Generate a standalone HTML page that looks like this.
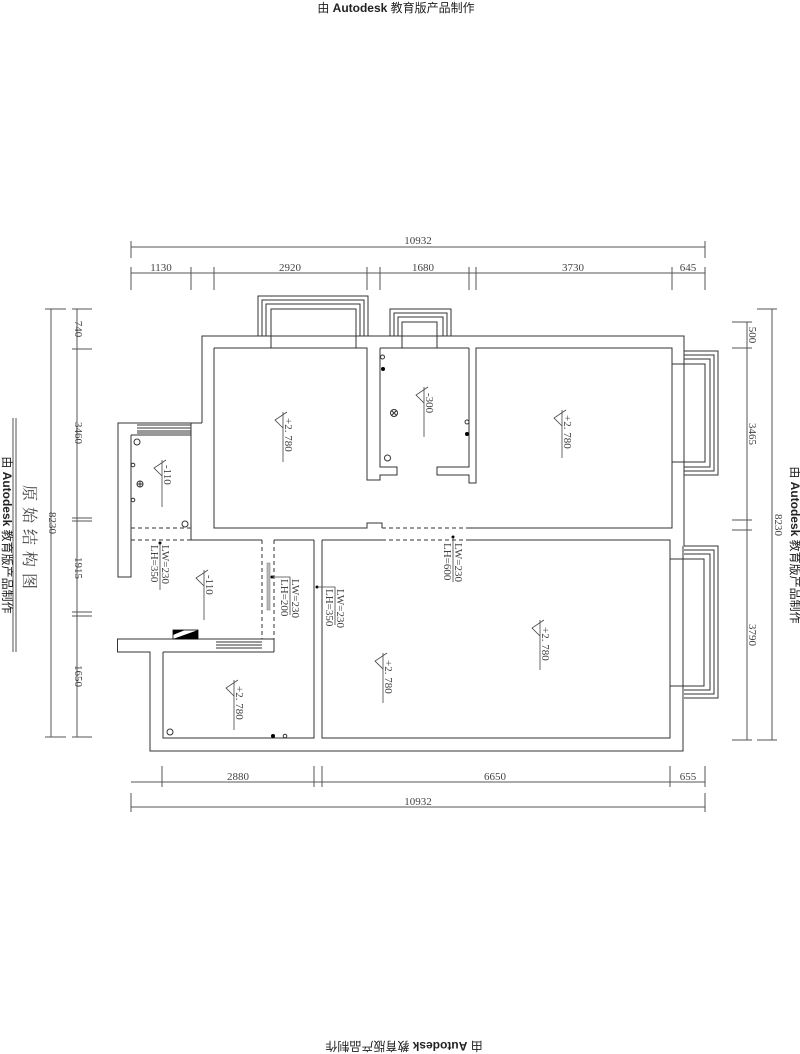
<!DOCTYPE html>
<html><head><meta charset="utf-8"><style>
html,body{margin:0;padding:0;background:#fff;}
svg{display:block;}
text{font-family:"Liberation Serif","Noto Serif CJK SC",serif;fill:#444;}
.w{font-family:"Liberation Sans","Noto Sans CJK SC",sans-serif;fill:#222;}
</style></head><body>
<svg width="800" height="1054" viewBox="0 0 800 1054" xmlns="http://www.w3.org/2000/svg">
<g fill="none" stroke="#555" stroke-width="1">
<line x1="131" y1="247" x2="705" y2="247"/>
<line x1="131" y1="241" x2="131" y2="258"/><line x1="705" y1="241" x2="705" y2="258"/>
<line x1="131" y1="273" x2="705" y2="273"/>
<path d="M131 267V290M191 267V290M214 267V290M367 267V290M380 267V290M469 267V290M476 267V290M672 267V290M705 267V290"/>
<line x1="131" y1="807" x2="705" y2="807"/>
<line x1="131" y1="793" x2="131" y2="812"/><line x1="705" y1="793" x2="705" y2="812"/>
<line x1="131" y1="782" x2="705" y2="782"/>
<path d="M162 766V787M314 766V787M322 766V787M670 766V787M705 766V787"/>
<line x1="51" y1="309" x2="51" y2="737"/>
<line x1="45" y1="309" x2="66" y2="309"/><line x1="45" y1="737" x2="66" y2="737"/>
<line x1="77" y1="309" x2="77" y2="737"/>
<path d="M72 309H92M72 349H92M72 518H92M72 521H92M72 612H92M72 616H92M72 737H92"/>
<line x1="772" y1="309" x2="772" y2="740"/>
<line x1="757" y1="309" x2="777" y2="309"/><line x1="757" y1="740" x2="777" y2="740"/>
<line x1="747" y1="322" x2="747" y2="740"/>
<path d="M732 322H752M732 348H752M732 520H752M732 530H752M732 740H752"/>
<line x1="13" y1="418" x2="13" y2="652"/><line x1="16" y1="418" x2="16" y2="652"/>
</g>

<g fill="none" stroke="#333" stroke-width="1">
<path d="M258 336V296H368V336M262 336V300H364V336M266 336V304H360V336M271 348V309H356V348"/>
<path d="M390 336V309H451V336M394 336V313H447V336M398 336V317H443V336M402 348V322H437V348"/>
<path d="M684 351H718V475H684M684 355H714V471H684M684 359H710V467H684M672 364H705V462H672"/>
<path d="M684 546H718V698H684M684 550H714V694H684M684 554H710V690H684M670 559H704V686H670"/>
<path d="M202 423V336H684V546M683 546V751H150V652H117.5V639H274"/>
<path d="M202 423H118V577H131V435"/>
<path d="M131 435H191V528"/>
<path d="M137 425H191M137 428H191M137 431H191M137 433H191"/>
<path d="M191 423V540"/>
<path d="M214 348H367V480H380V475H397V467H380V348M214 348V528H367V523H382V528"/>
<path d="M469 348V467H437V475H469V483H476V348H672V528H476"/>
<path d="M380 348H469"/>
<path d="M476 528H469"/>
<path d="M191 540H262M274 540H314M322 540H382M469 540H670V738H322V540"/>
<path d="M314 540V738H163V652"/>
<path d="M274 639V652M163 652H274"/>
<path d="M216 642H262M216 645H262M216 648H262"/>
</g>
<g fill="none" stroke="#333" stroke-width="1" stroke-dasharray="4,3">
<path d="M131 528H191M131 540H191M382 528H469M382 540H469"/>
<path d="M262 540V639M274 540V639M314 540V639M322 540V639"/>
</g>
<rect x="267" y="563" width="3" height="47" fill="#bbb" stroke="#777" stroke-width="0.5"/>
<rect x="173" y="630" width="25" height="9" fill="#fff" stroke="#000" stroke-width="0.8"/>
<polygon points="173,639 198,630 198,639" fill="#000"/>
<polygon points="173,630 185,630 173,635" fill="#000"/>

<g fill="none" stroke="#333" stroke-width="1">
<circle cx="382.5" cy="357" r="2"/><circle cx="394" cy="413" r="3.5"/><path d="M391.5 410.5l5 5M396.5 410.5l-5 5"/>
<circle cx="387.5" cy="458" r="3"/><circle cx="467" cy="422" r="2"/>
<circle cx="137" cy="442" r="3"/><circle cx="133" cy="465" r="1.8"/><circle cx="133" cy="500" r="1.8"/>
<circle cx="140" cy="484" r="3"/><path d="M137 484h6M140 481v6"/>
<circle cx="185" cy="524" r="3"/><circle cx="170" cy="732" r="3"/><circle cx="285" cy="736" r="1.8"/>
</g>
<g fill="#000"><circle cx="383" cy="369" r="2"/><circle cx="467" cy="434" r="2"/><circle cx="273" cy="736" r="2"/>
<circle cx="272" cy="577" r="1.5"/><circle cx="317" cy="587" r="1.5"/><circle cx="453" cy="537" r="1.5"/><circle cx="160" cy="543" r="1.5"/></g>

<g fill="none" stroke="#444" stroke-width="0.8">
<path d="M287 412L275 420L283 428M283 412V462"/>
<path d="M428 387L416 395L424 403M424 387V437"/>
<path d="M566 410L554 418L562 426M562 410V458"/>
<path d="M166 460L154 468L162 476M162 460V507"/>
<path d="M208 570L196 578L204 586M204 570V620"/>
<path d="M544 620L532 628L540 636M540 620V670"/>
<path d="M387 653L375 661L383 669M383 653V703"/>
<path d="M238 680L226 688L234 696M234 680V730"/>
<path d="M160 543V590M453 537V582M272 577H290V615M317 587H335V625"/>
</g>
<g font-size="11">
<text transform="translate(285,418) rotate(90)">+2. 780</text>
<text transform="translate(426,393) rotate(90)">-300</text>
<text transform="translate(564,415) rotate(90)">+2. 780</text>
<text transform="translate(164,465) rotate(90)">-110</text>
<text transform="translate(206,575) rotate(90)">-110</text>
<text transform="translate(542,627) rotate(90)">+2. 780</text>
<text transform="translate(385,660) rotate(90)">+2. 780</text>
<text transform="translate(236,686) rotate(90)">+2. 780</text>
<text transform="translate(162,545) rotate(90)">LW=230</text>
<text transform="translate(151,545) rotate(90)">LH=350</text>
<text transform="translate(455,543) rotate(90)">LW=230</text>
<text transform="translate(444,543) rotate(90)">LH=600</text>
<text transform="translate(292,579) rotate(90)">LW=230</text>
<text transform="translate(281,579) rotate(90)">LH=200</text>
<text transform="translate(337,589) rotate(90)">LW=230</text>
<text transform="translate(326,589) rotate(90)">LH=350</text>
</g>
<g font-size="11" text-anchor="middle">
<text x="418" y="244">10932</text>
<text x="161" y="271">1130</text>
<text x="290" y="271">2920</text>
<text x="423" y="271">1680</text>
<text x="573" y="271">3730</text>
<text x="688" y="271">645</text>
<text x="238" y="780">2880</text>
<text x="495" y="780">6650</text>
<text x="688" y="780">655</text>
<text x="418" y="805">10932</text>
<text transform="translate(75,329) rotate(90)">740</text>
<text transform="translate(75,433) rotate(90)">3460</text>
<text transform="translate(75,568) rotate(90)">1915</text>
<text transform="translate(75,676) rotate(90)">1650</text>
<text transform="translate(49,523) rotate(90)">8230</text>
<text transform="translate(749,335) rotate(90)">500</text>
<text transform="translate(749,434) rotate(90)">3465</text>
<text transform="translate(749,635) rotate(90)">3790</text>
<text transform="translate(775,525) rotate(90)">8230</text>
</g>
<text transform="translate(24,540) rotate(90)" font-size="16" text-anchor="middle" letter-spacing="6">原始结构图</text>
<g class="w" font-size="12" text-anchor="middle">
<text class="w" x="396" y="12">由 <tspan font-weight="bold">Autodesk</tspan> 教育版产品制作</text>
<text class="w" transform="translate(404,1042) rotate(180)">由 <tspan font-weight="bold">Autodesk</tspan> 教育版产品制作</text>
<text class="w" transform="translate(791,545) rotate(90)">由 <tspan font-weight="bold">Autodesk</tspan> 教育版产品制作</text>
<text class="w" transform="translate(3,535) rotate(90)">由 <tspan font-weight="bold">Autodesk</tspan> 教育版产品制作</text>
</g>
</svg>
</body></html>
